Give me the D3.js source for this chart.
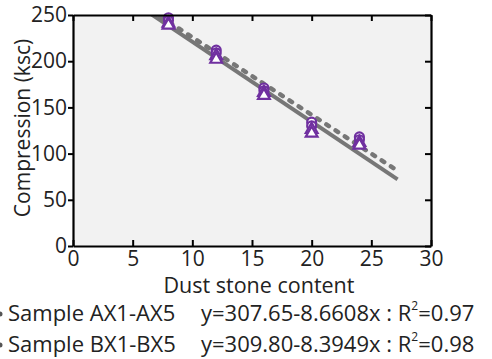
<!DOCTYPE html>
<html><head><meta charset="utf-8">
<script src="https://cdn.jsdelivr.net/npm/d3@7"></script>
<style>body{margin:0;background:#fff}svg{display:block}text{font-family:"Open Sans",sans-serif;fill:#222}</style>
</head><body>
<svg id="c" width="492" height="359"></svg>
<script>
const xTicks = [0,5,10,15,20,25,30];
const yTicks = [0,50,100,150,200,250];
const contentX = [8,12,16,20,24];
const seriesA = [[247,244],[212,209],[171,168],[134,130],[118,115]];
const seriesB = [[241,239],[206,202],[166,163],[126,122],[112,109]];
const fitA = {a:307.65, b:-8.6608};
const fitB = {a:309.80, b:-8.3949};
const fitRange = [5, 27.2];
const legendNames = ["Sample AX1-AX5","Sample BX1-BX5"];
const legendEq = ["y=307.65-8.6608x : R","y=309.80-8.3949x : R"];
const legendR2 = ["=0.97","=0.98"];

const svg = d3.select("#c");
const L=73,R=431,T=15,B=246;
const x = d3.scaleLinear().domain([0,30]).range([L,R]);
const y = d3.scaleLinear().domain([0,250]).range([B,T]);
const purple="#7030a0", gray="#777";

svg.append("rect").attr("x",L).attr("y",T).attr("width",R-L).attr("height",B-T).attr("fill","#f2f2f2");
svg.append("clipPath").attr("id","clip").append("rect").attr("x",L).attr("y",T).attr("width",R-L).attr("height",B-T);

const g = svg.append("g").attr("clip-path","url(#clip)");
const line = f => d3.line().x(d=>x(d)).y(d=>y(f.a+f.b*d));
g.append("path").attr("d",line(fitB)(fitRange)).attr("stroke",gray).attr("stroke-width",4.5).attr("fill","none")
  .attr("stroke-dasharray","3,8").attr("stroke-linecap","round");
g.append("path").attr("d",line(fitA)(fitRange)).attr("stroke",gray).attr("stroke-width",4).attr("fill","none");

const ptsA=[], ptsB=[];
contentX.forEach((cx,i)=>{ seriesA[i].forEach(v=>ptsA.push([cx,v])); seriesB[i].forEach(v=>ptsB.push([cx,v])); });
svg.selectAll(".ma").data(ptsA).join("circle").attr("cx",d=>x(d[0])).attr("cy",d=>y(d[1])).attr("r",4.5)
  .attr("fill","#fff").attr("stroke",purple).attr("stroke-width",2.2);
const tri = d3.symbol().type(d3.symbolTriangle).size(60);
svg.selectAll(".mb").data(ptsB).join("path").attr("d",tri).attr("transform",d=>`translate(${x(d[0])},${y(d[1])})`)
  .attr("fill","#fff").attr("stroke",purple).attr("stroke-width",2.2);

// axes
const fs = 21;
const ax = svg.append("g").attr("transform",`translate(0,${B})`).call(d3.axisBottom(x).tickValues(xTicks).tickSizeInner(-6).tickSizeOuter(0).tickPadding(5));
const ay = svg.append("g").attr("transform",`translate(${L},0)`).call(d3.axisLeft(y).tickValues(yTicks).tickSizeInner(5).tickSizeOuter(0).tickPadding(1));
const at = svg.append("g").attr("transform",`translate(0,${T})`).call(d3.axisTop(x).tickValues(xTicks).tickSizeInner(-6).tickSizeOuter(0).tickFormat(""));
const ar = svg.append("g").attr("transform",`translate(${R},0)`).call(d3.axisRight(y).tickValues(yTicks).tickSizeInner(-6).tickSizeOuter(0).tickFormat(""));
[ax,ay,at,ar].forEach(a=>{a.select(".domain").attr("stroke","#000").attr("stroke-width",2.2);a.selectAll(".tick line").attr("stroke","#000").attr("stroke-width",2);
  a.selectAll("text").style("font-size",fs+"px").style("font-family","'Open Sans',sans-serif").attr("fill","#222");});

svg.append("text").attr("x",(L+R)/2+7).attr("y",293).attr("text-anchor","middle").style("font-size","21.5px").text("Dust stone content");
svg.append("text").attr("transform","translate(30,128) rotate(-90)").attr("text-anchor","middle").style("font-size","21px").text("Compression (ksc)");

// legend
[0,1].forEach(i=>{
  const by = 321 + i*31;
  svg.append("circle").attr("cx",0).attr("cy",by-7).attr("r",2.5).attr("fill","#555");
  svg.append("text").attr("x",8).attr("y",by).style("font-size","22px").text(legendNames[i]);
  const t = svg.append("text").attr("x",201).attr("y",by).style("font-size","22px");
  t.append("tspan").text(legendEq[i]);
  t.append("tspan").attr("dy",-11).style("font-size","12px").text("2");
  t.append("tspan").attr("dy",11).text(legendR2[i]);
});
</script>
</body></html>
